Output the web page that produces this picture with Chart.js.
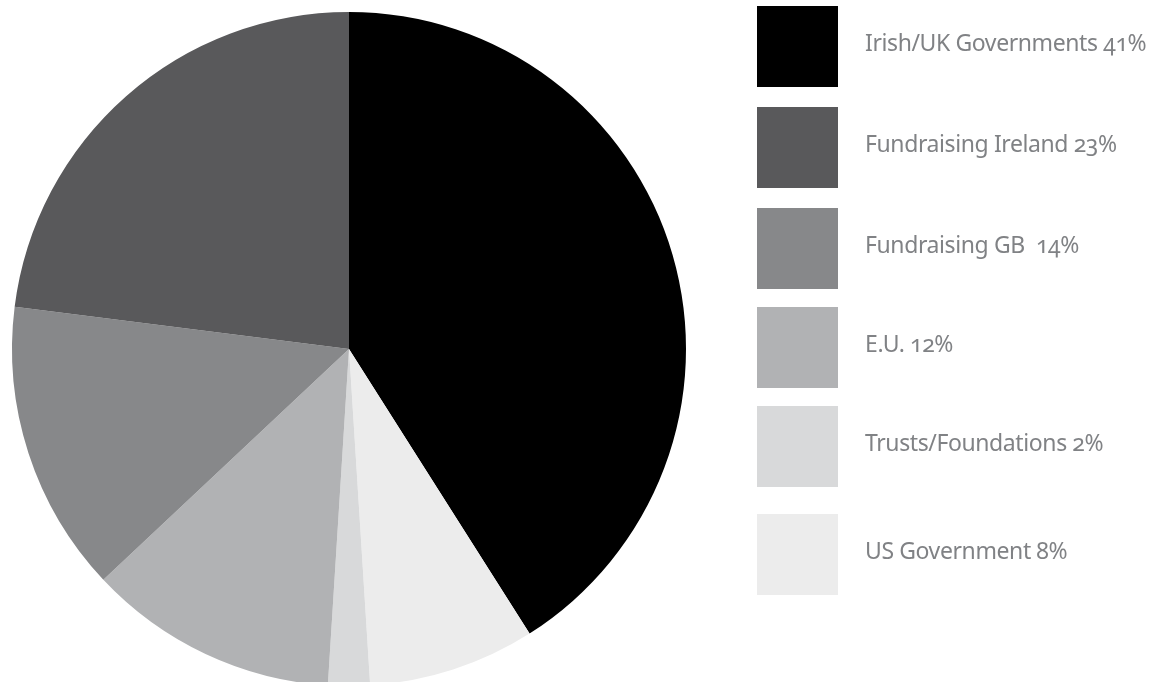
<!DOCTYPE html>
<html>
<head>
<meta charset="utf-8">
<script src="https://cdn.jsdelivr.net/npm/chart.js"></script>
<style>
    html, body { margin: 0; padding: 0; background: #fff; overflow: hidden; }
    #wrap { position: relative; width: 1164px; height: 682px; overflow: hidden; }
    #wrap canvas { position: absolute; left: 0; top: 0; }
    .item { position: absolute; left: 757px; height: 81px; }
    .box { position: absolute; left: 0; top: 0; width: 81px; height: 81px; }
    .txt {
        position: absolute; left: 108px; top: -4px; line-height: 81px; white-space: pre;
        font-family: "Noto Sans", sans-serif; font-size: 23px; letter-spacing: -0.4px; color: #808285;
        font-variant-numeric: oldstyle-nums; font-feature-settings: "onum";
    }
</style>
</head>
<body>
<div id="wrap">
    <canvas id="myChart"></canvas>
    <div id="legend"></div>
</div>
<script>
// slices, clockwise from 12 o'clock
const labels = ['Irish/UK Governments', 'US Government', 'Trusts/Foundations', 'E.U.', 'Fundraising GB', 'Fundraising Ireland'];
const values = [41, 8, 2, 12, 14, 23];
const colors = ['#000000', '#ececec', '#d8d9da', '#b1b2b4', '#87888a', '#59595b'];

// legend is listed in a different order than the slices
const legendOrder = [0, 5, 4, 3, 2, 1];
const legendText = ['Irish/UK Governments 41%', 'US Government 8%', 'Trusts/Foundations 2%', 'E.U. 12%', 'Fundraising GB  14%', 'Fundraising Ireland 23%'];

const legendTops = [6, 107, 208, 307, 406, 514];
const legend = document.getElementById('legend');
legendOrder.forEach((idx, i) => {
    const item = document.createElement('div');
    item.className = 'item';
    item.style.top = legendTops[i] + 'px';
    item.innerHTML = '<div class="box" style="background:' + colors[idx] + '"></div><div class="txt"></div>';
    item.querySelector('.txt').textContent = legendText[idx];
    legend.appendChild(item);
});

// canvas taller than the window so the pie runs off the bottom edge
const canvas = document.getElementById('myChart');
canvas.style.width = '1164px';
canvas.style.height = '698px';

new Chart(canvas, {
    type: 'pie',
    data: {
        labels: labels,
        datasets: [{
            data: values,
            backgroundColor: colors,
            borderWidth: 0
        }]
    },
    options: {
        responsive: false,
        animation: false,
        layout: { padding: { left: 12, top: 12, right: 478, bottom: 12 } },
        plugins: {
            legend: { display: false },
            tooltip: { enabled: false }
        }
    }
});
</script>
</body>
</html>
